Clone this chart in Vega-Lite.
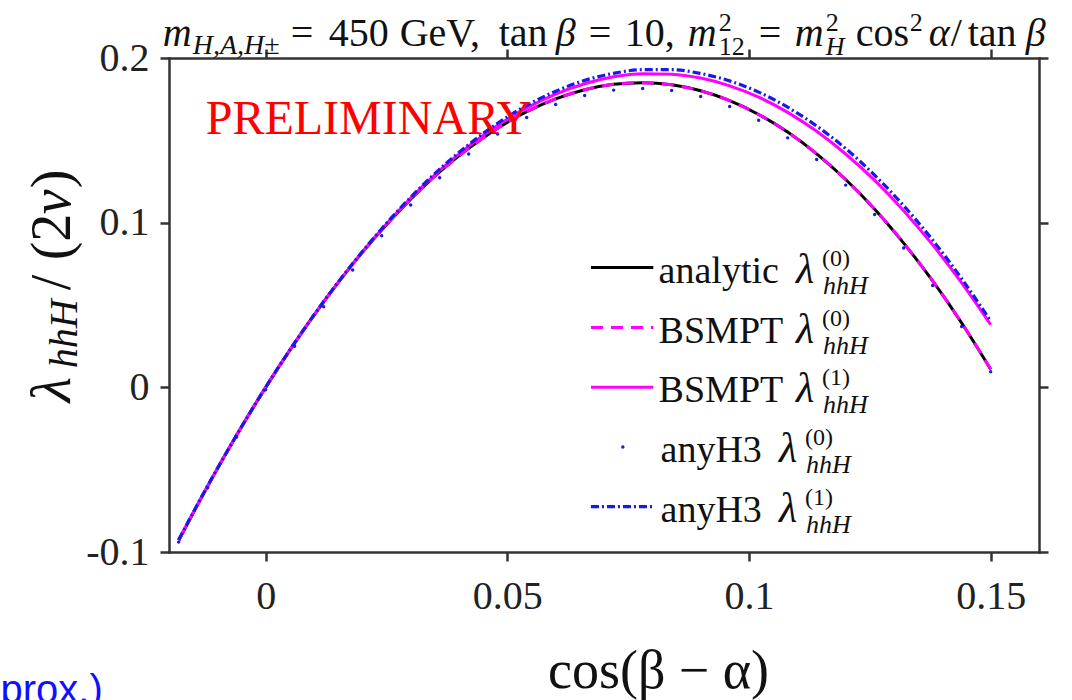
{
"$schema": "https://vega.github.io/schema/vega-lite/v6.json",
"width": 870, "height": 494,
"autosize": {"type": "none"},
"padding": {"left": 169, "top": 58, "right": 33, "bottom": 148},
"background": "#ffffff",
"config": {
  "view": {"stroke": null},
  "font": "Liberation Serif",
  "text": {"font": "Liberation Serif", "color": "#111111"},
  "axis": {"grid": false, "domainColor": "#333333", "domainWidth": 2.5, "domainCap": "square", "tickColor": "#333333", "tickWidth": 2.5, "tickSize": 9, "labelFont": "Liberation Serif", "labelFontSize": 40, "labelColor": "#222222", "titleFont": "Liberation Serif", "titleFontWeight": "normal", "titleColor": "#111111"}
},
"datasets": {"curves": [
{"series":"analytic","x":-0.018,"y":-0.0930},{"series":"analytic","x":-0.012,"y":-0.0600},{"series":"analytic","x":-0.006,"y":-0.0290},{"series":"analytic","x":0,"y":0},{"series":"analytic","x":0.006,"y":0.0270},{"series":"analytic","x":0.012,"y":0.0519},{"series":"analytic","x":0.018,"y":0.0748},{"series":"analytic","x":0.024,"y":0.0956},{"series":"analytic","x":0.030,"y":0.1142},{"series":"analytic","x":0.036,"y":0.1308},{"series":"analytic","x":0.042,"y":0.1451},{"series":"analytic","x":0.048,"y":0.1574},{"series":"analytic","x":0.054,"y":0.1674},{"series":"analytic","x":0.060,"y":0.1752},{"series":"analytic","x":0.066,"y":0.1807},{"series":"analytic","x":0.072,"y":0.1840},{"series":"analytic","x":0.078,"y":0.1850},{"series":"analytic","x":0.084,"y":0.1837},{"series":"analytic","x":0.090,"y":0.1801},{"series":"analytic","x":0.096,"y":0.1741},{"series":"analytic","x":0.102,"y":0.1657},{"series":"analytic","x":0.108,"y":0.1550},{"series":"analytic","x":0.114,"y":0.1418},{"series":"analytic","x":0.120,"y":0.1262},{"series":"analytic","x":0.126,"y":0.1082},{"series":"analytic","x":0.132,"y":0.0876},{"series":"analytic","x":0.138,"y":0.0646},{"series":"analytic","x":0.144,"y":0.0391},{"series":"analytic","x":0.150,"y":0.0110},
{"series":"bsmpt0","x":-0.018,"y":-0.0930},{"series":"bsmpt0","x":-0.012,"y":-0.0600},{"series":"bsmpt0","x":-0.006,"y":-0.0290},{"series":"bsmpt0","x":0,"y":0},{"series":"bsmpt0","x":0.006,"y":0.0270},{"series":"bsmpt0","x":0.012,"y":0.0519},{"series":"bsmpt0","x":0.018,"y":0.0748},{"series":"bsmpt0","x":0.024,"y":0.0956},{"series":"bsmpt0","x":0.030,"y":0.1142},{"series":"bsmpt0","x":0.036,"y":0.1308},{"series":"bsmpt0","x":0.042,"y":0.1451},{"series":"bsmpt0","x":0.048,"y":0.1574},{"series":"bsmpt0","x":0.054,"y":0.1674},{"series":"bsmpt0","x":0.060,"y":0.1752},{"series":"bsmpt0","x":0.066,"y":0.1807},{"series":"bsmpt0","x":0.072,"y":0.1840},{"series":"bsmpt0","x":0.078,"y":0.1850},{"series":"bsmpt0","x":0.084,"y":0.1837},{"series":"bsmpt0","x":0.090,"y":0.1801},{"series":"bsmpt0","x":0.096,"y":0.1741},{"series":"bsmpt0","x":0.102,"y":0.1657},{"series":"bsmpt0","x":0.108,"y":0.1550},{"series":"bsmpt0","x":0.114,"y":0.1418},{"series":"bsmpt0","x":0.120,"y":0.1262},{"series":"bsmpt0","x":0.126,"y":0.1082},{"series":"bsmpt0","x":0.132,"y":0.0876},{"series":"bsmpt0","x":0.138,"y":0.0646},{"series":"bsmpt0","x":0.144,"y":0.0391},{"series":"bsmpt0","x":0.150,"y":0.0110},
{"series":"bsmpt1","x":-0.018,"y":-0.0928},{"series":"bsmpt1","x":-0.012,"y":-0.0599},{"series":"bsmpt1","x":-0.006,"y":-0.0290},{"series":"bsmpt1","x":0,"y":0},{"series":"bsmpt1","x":0.006,"y":0.0270},{"series":"bsmpt1","x":0.012,"y":0.0520},{"series":"bsmpt1","x":0.018,"y":0.0750},{"series":"bsmpt1","x":0.024,"y":0.0960},{"series":"bsmpt1","x":0.030,"y":0.1149},{"series":"bsmpt1","x":0.036,"y":0.1317},{"series":"bsmpt1","x":0.042,"y":0.1465},{"series":"bsmpt1","x":0.048,"y":0.1592},{"series":"bsmpt1","x":0.054,"y":0.1697},{"series":"bsmpt1","x":0.060,"y":0.1781},{"series":"bsmpt1","x":0.066,"y":0.1844},{"series":"bsmpt1","x":0.072,"y":0.1886},{"series":"bsmpt1","x":0.078,"y":0.1905},{"series":"bsmpt1","x":0.084,"y":0.1902},{"series":"bsmpt1","x":0.090,"y":0.1878},{"series":"bsmpt1","x":0.096,"y":0.1831},{"series":"bsmpt1","x":0.102,"y":0.1762},{"series":"bsmpt1","x":0.108,"y":0.1670},{"series":"bsmpt1","x":0.114,"y":0.1555},{"series":"bsmpt1","x":0.120,"y":0.1417},{"series":"bsmpt1","x":0.126,"y":0.1257},{"series":"bsmpt1","x":0.132,"y":0.1073},{"series":"bsmpt1","x":0.138,"y":0.0865},{"series":"bsmpt1","x":0.144,"y":0.0634},{"series":"bsmpt1","x":0.150,"y":0.0380},
{"series":"anyh31","x":-0.018,"y":-0.0926},{"series":"anyh31","x":-0.012,"y":-0.0598},{"series":"anyh31","x":-0.006,"y":-0.0290},{"series":"anyh31","x":0,"y":0},{"series":"anyh31","x":0.006,"y":0.0270},{"series":"anyh31","x":0.012,"y":0.0521},{"series":"anyh31","x":0.018,"y":0.0752},{"series":"anyh31","x":0.024,"y":0.0963},{"series":"anyh31","x":0.030,"y":0.1154},{"series":"anyh31","x":0.036,"y":0.1325},{"series":"anyh31","x":0.042,"y":0.1474},{"series":"anyh31","x":0.048,"y":0.1604},{"series":"anyh31","x":0.054,"y":0.1712},{"series":"anyh31","x":0.060,"y":0.1798},{"series":"anyh31","x":0.066,"y":0.1864},{"series":"anyh31","x":0.072,"y":0.1907},{"series":"anyh31","x":0.078,"y":0.1929},{"series":"anyh31","x":0.084,"y":0.1929},{"series":"anyh31","x":0.090,"y":0.1906},{"series":"anyh31","x":0.096,"y":0.1861},{"series":"anyh31","x":0.102,"y":0.1793},{"series":"anyh31","x":0.108,"y":0.1701},{"series":"anyh31","x":0.114,"y":0.1587},{"series":"anyh31","x":0.120,"y":0.1450},{"series":"anyh31","x":0.126,"y":0.1288},{"series":"anyh31","x":0.132,"y":0.1103},{"series":"anyh31","x":0.138,"y":0.0894},{"series":"anyh31","x":0.144,"y":0.0660},{"series":"anyh31","x":0.150,"y":0.0402},
{"series":"anyh30","x":-0.018,"y":-0.0940},{"series":"anyh30","x":-0.012,"y":-0.0610},{"series":"anyh30","x":-0.006,"y":-0.0302},{"series":"anyh30","x":0,"y":-0.0015},{"series":"anyh30","x":0.006,"y":0.0250},{"series":"anyh30","x":0.012,"y":0.0489},{"series":"anyh30","x":0.018,"y":0.0713},{"series":"anyh30","x":0.024,"y":0.0921},{"series":"anyh30","x":0.030,"y":0.1107},{"series":"anyh30","x":0.036,"y":0.1273},{"series":"anyh30","x":0.042,"y":0.1417},{"series":"anyh30","x":0.048,"y":0.1539},{"series":"anyh30","x":0.054,"y":0.1639},{"series":"anyh30","x":0.060,"y":0.1717},{"series":"anyh30","x":0.066,"y":0.1772},{"series":"anyh30","x":0.072,"y":0.1805},{"series":"anyh30","x":0.078,"y":0.1815},{"series":"anyh30","x":0.084,"y":0.1802},{"series":"anyh30","x":0.090,"y":0.1766},{"series":"anyh30","x":0.096,"y":0.1706},{"series":"anyh30","x":0.102,"y":0.1622},{"series":"anyh30","x":0.108,"y":0.1515},{"series":"anyh30","x":0.114,"y":0.1383},{"series":"anyh30","x":0.120,"y":0.1228},{"series":"anyh30","x":0.126,"y":0.1049},{"series":"anyh30","x":0.132,"y":0.0846},{"series":"anyh30","x":0.138,"y":0.0618},{"series":"anyh30","x":0.144,"y":0.0370},{"series":"anyh30","x":0.150,"y":0.0095}
]},
"data": {"name": "curves"},
"resolve": {"axis": {"x": "independent", "y": "independent"}},
"layer": [
  {
    "transform": [{"filter": "datum.series === 'analytic'"}],
    "mark": {"type": "line", "color": "#000000", "strokeWidth": 3, "interpolate": "monotone"},
    "encoding": {
      "x": {"field": "x", "type": "quantitative", "scale": {"domain": [-0.02, 0.16], "nice": false, "zero": false},
            "axis": {"orient": "bottom", "values": [0, 0.05, 0.1, 0.15], "format": "~g", "labelPadding": 15, "title": "cos(β − α)", "titleFontSize": 54, "titleX": 489, "titleY": 135, "titleBaseline": "alphabetic", "titleAlign": "center"}},
      "y": {"field": "y", "type": "quantitative", "scale": {"domain": [-0.1, 0.2], "nice": false, "zero": false},
            "axis": {"orient": "left", "values": [-0.1, 0, 0.1, 0.2], "labelExpr": "datum.value < 0 ? '-' + format(-datum.value, '.1f') : (datum.value == 0 ? '0' : format(datum.value, '.1f'))", "labelPadding": 11, "title": null}}
    }
  },
  {
    "transform": [{"filter": "datum.series === 'bsmpt0'"}],
    "mark": {"type": "line", "color": "#ff00ff", "strokeWidth": 3, "strokeDash": [12, 8], "interpolate": "monotone"},
    "encoding": {
      "x": {"field": "x", "type": "quantitative", "axis": {"orient": "top", "values": [0, 0.05, 0.1, 0.15], "labels": false, "title": null}},
      "y": {"field": "y", "type": "quantitative", "axis": {"orient": "right", "values": [-0.1, 0, 0.1, 0.2], "labels": false, "title": null}}
    }
  },
  {
    "transform": [{"filter": "datum.series === 'bsmpt1'"}],
    "mark": {"type": "line", "color": "#ff00ff", "strokeWidth": 3, "interpolate": "monotone"},
    "encoding": {
      "x": {"field": "x", "type": "quantitative", "axis": null},
      "y": {"field": "y", "type": "quantitative", "axis": null}
    }
  },
  {
    "transform": [{"filter": "datum.series === 'anyh31'"}],
    "mark": {"type": "line", "color": "#1a1ae6", "strokeWidth": 3.2, "strokeDash": [8, 3, 2, 3], "interpolate": "monotone"},
    "encoding": {
      "x": {"field": "x", "type": "quantitative", "axis": null},
      "y": {"field": "y", "type": "quantitative", "axis": null}
    }
  },
  {
    "transform": [{"filter": "datum.series === 'anyh30'"}],
    "mark": {"type": "point", "filled": true, "shape": "circle", "size": 12, "color": "#1a1ae6", "opacity": 1},
    "encoding": {
      "x": {"field": "x", "type": "quantitative", "axis": null},
      "y": {"field": "y", "type": "quantitative", "axis": null}
    }
  },
  {
    "data": {"values": [{}]},
    "mark": {"type": "text", "text": "PRELIMINARY", "align": "left", "baseline": "alphabetic", "fontSize": 48, "color": "#ff0000"},
    "encoding": {"x": {"datum": -0.0124, "type": "quantitative", "axis": null}, "y": {"datum": 0.154, "type": "quantitative", "axis": null}}
  },
  {
    "data": {"values": [{}]},
    "mark": {"type": "text", "text": "(approx.)", "align": "right", "baseline": "alphabetic", "fontSize": 40, "font": "Liberation Sans", "color": "#1010ff"},
    "encoding": {"x": {"datum": -0.0337, "type": "quantitative", "axis": null}, "y": {"datum": -0.1915, "type": "quantitative", "axis": null}}
  },
  {
    "data": {"values": [{}]},
    "encoding": {"x": {"datum": -0.02131, "type": "quantitative", "axis": null}, "y": {"datum": 0.20704, "type": "quantitative", "axis": null}},
    "layer": [
      {"mark": {"type": "text", "text": "m", "align": "left", "baseline": "alphabetic", "fontSize": 40, "fontStyle": "italic"}},
      {"mark": {"type": "text", "text": "H,A,H±", "align": "left", "baseline": "alphabetic", "fontSize": 28, "fontStyle": "italic", "dx": 30, "dy": 8}},
      {"mark": {"type": "text", "text": "=", "align": "left", "baseline": "alphabetic", "fontSize": 40, "dx": 128}},
      {"mark": {"type": "text", "text": "450", "align": "left", "baseline": "alphabetic", "fontSize": 40, "dx": 166}},
      {"mark": {"type": "text", "text": "GeV,", "align": "left", "baseline": "alphabetic", "fontSize": 40, "dx": 237}},
      {"mark": {"type": "text", "text": "tan", "align": "left", "baseline": "alphabetic", "fontSize": 40, "dx": 336}},
      {"mark": {"type": "text", "text": "β", "align": "left", "baseline": "alphabetic", "fontSize": 40, "fontStyle": "italic", "dx": 393}},
      {"mark": {"type": "text", "text": "=", "align": "left", "baseline": "alphabetic", "fontSize": 40, "dx": 426}},
      {"mark": {"type": "text", "text": "10,", "align": "left", "baseline": "alphabetic", "fontSize": 40, "dx": 462}},
      {"mark": {"type": "text", "text": "m", "align": "left", "baseline": "alphabetic", "fontSize": 40, "fontStyle": "italic", "dx": 525}},
      {"mark": {"type": "text", "text": "2", "align": "left", "baseline": "alphabetic", "fontSize": 26, "dx": 556, "dy": -15}},
      {"mark": {"type": "text", "text": "12", "align": "left", "baseline": "alphabetic", "fontSize": 26, "dx": 556, "dy": 9}},
      {"mark": {"type": "text", "text": "=", "align": "left", "baseline": "alphabetic", "fontSize": 40, "dx": 596}},
      {"mark": {"type": "text", "text": "m", "align": "left", "baseline": "alphabetic", "fontSize": 40, "fontStyle": "italic", "dx": 632}},
      {"mark": {"type": "text", "text": "2", "align": "left", "baseline": "alphabetic", "fontSize": 26, "dx": 663, "dy": -15}},
      {"mark": {"type": "text", "text": "H", "align": "left", "baseline": "alphabetic", "fontSize": 26, "fontStyle": "italic", "dx": 663, "dy": 9}},
      {"mark": {"type": "text", "text": "cos", "align": "left", "baseline": "alphabetic", "fontSize": 40, "dx": 693}},
      {"mark": {"type": "text", "text": "2", "align": "left", "baseline": "alphabetic", "fontSize": 26, "dx": 747, "dy": -15}},
      {"mark": {"type": "text", "text": "α", "align": "left", "baseline": "alphabetic", "fontSize": 40, "fontStyle": "italic", "dx": 766}},
      {"mark": {"type": "text", "text": "/", "align": "left", "baseline": "alphabetic", "fontSize": 40, "dx": 788}},
      {"mark": {"type": "text", "text": "tan", "align": "left", "baseline": "alphabetic", "fontSize": 40, "dx": 805}},
      {"mark": {"type": "text", "text": "β", "align": "left", "baseline": "alphabetic", "fontSize": 40, "fontStyle": "italic", "dx": 863}}
    ]
  },
  {
    "data": {"values": [{}]},
    "encoding": {"x": {"datum": -0.04055, "type": "quantitative", "axis": null}, "y": {"datum": -0.0091, "type": "quantitative", "axis": null}},
    "layer": [
      {"mark": {"type": "text", "text": "λ", "align": "left", "baseline": "alphabetic", "angle": 270, "fontSize": 58, "fontStyle": "italic"}},
      {"mark": {"type": "text", "text": "hhH", "align": "left", "baseline": "alphabetic", "angle": 270, "fontSize": 40, "fontStyle": "italic", "dx": 34, "dy": 7}},
      {"mark": {"type": "text", "text": "/", "align": "left", "baseline": "alphabetic", "angle": 270, "fontSize": 56, "dx": 112}},
      {"mark": {"type": "text", "text": "(2", "align": "left", "baseline": "alphabetic", "angle": 270, "fontSize": 56, "dx": 142}},
      {"mark": {"type": "text", "text": "v", "align": "left", "baseline": "alphabetic", "angle": 270, "fontSize": 56, "fontStyle": "italic", "dx": 188}},
      {"mark": {"type": "text", "text": ")", "align": "left", "baseline": "alphabetic", "angle": 270, "fontSize": 56, "dx": 214}}
    ]
  },
  {
    "data": {"values": [{}]},
    "encoding": {"y": {"datum": 0.0727, "type": "quantitative", "axis": null}},
    "layer": [
      {"mark": {"type": "rule", "color": "#000000", "strokeWidth": 3}, "encoding": {"x": {"datum": 0.0673, "type": "quantitative", "axis": null}, "x2": {"datum": 0.0802}}},
      {"mark": {"type": "text", "text": "analytic", "align": "left", "baseline": "alphabetic", "dy": 15, "fontSize": 38}, "encoding": {"x": {"datum": 0.0813, "type": "quantitative", "axis": null}}},
      {"mark": {"type": "text", "text": "λ", "align": "left", "baseline": "alphabetic", "dy": 15, "fontSize": 42, "fontStyle": "italic"}, "encoding": {"x": {"datum": 0.1097, "type": "quantitative", "axis": null}}},
      {"mark": {"type": "text", "text": "(0)", "align": "left", "baseline": "alphabetic", "dx": 26, "dy": -2, "fontSize": 24}, "encoding": {"x": {"datum": 0.1097, "type": "quantitative", "axis": null}}},
      {"mark": {"type": "text", "text": "hhH", "align": "left", "baseline": "alphabetic", "dx": 27, "dy": 26, "fontSize": 26, "fontStyle": "italic"}, "encoding": {"x": {"datum": 0.1097, "type": "quantitative", "axis": null}}}
    ]
  },
  {
    "data": {"values": [{}]},
    "encoding": {"y": {"datum": 0.0363, "type": "quantitative", "axis": null}},
    "layer": [
      {"mark": {"type": "rule", "color": "#ff00ff", "strokeWidth": 3, "strokeDash": [12, 8]}, "encoding": {"x": {"datum": 0.0673, "type": "quantitative", "axis": null}, "x2": {"datum": 0.0802}}},
      {"mark": {"type": "text", "text": "BSMPT", "align": "left", "baseline": "alphabetic", "dy": 15, "fontSize": 38}, "encoding": {"x": {"datum": 0.0813, "type": "quantitative", "axis": null}}},
      {"mark": {"type": "text", "text": "λ", "align": "left", "baseline": "alphabetic", "dy": 15, "fontSize": 42, "fontStyle": "italic"}, "encoding": {"x": {"datum": 0.1097, "type": "quantitative", "axis": null}}},
      {"mark": {"type": "text", "text": "(0)", "align": "left", "baseline": "alphabetic", "dx": 26, "dy": -2, "fontSize": 24}, "encoding": {"x": {"datum": 0.1097, "type": "quantitative", "axis": null}}},
      {"mark": {"type": "text", "text": "hhH", "align": "left", "baseline": "alphabetic", "dx": 27, "dy": 26, "fontSize": 26, "fontStyle": "italic"}, "encoding": {"x": {"datum": 0.1097, "type": "quantitative", "axis": null}}}
    ]
  },
  {
    "data": {"values": [{}]},
    "encoding": {"y": {"datum": 0, "type": "quantitative", "axis": null}},
    "layer": [
      {"mark": {"type": "rule", "color": "#ff00ff", "strokeWidth": 3}, "encoding": {"x": {"datum": 0.0673, "type": "quantitative", "axis": null}, "x2": {"datum": 0.0802}}},
      {"mark": {"type": "text", "text": "BSMPT", "align": "left", "baseline": "alphabetic", "dy": 15, "fontSize": 38}, "encoding": {"x": {"datum": 0.0813, "type": "quantitative", "axis": null}}},
      {"mark": {"type": "text", "text": "λ", "align": "left", "baseline": "alphabetic", "dy": 15, "fontSize": 42, "fontStyle": "italic"}, "encoding": {"x": {"datum": 0.1097, "type": "quantitative", "axis": null}}},
      {"mark": {"type": "text", "text": "(1)", "align": "left", "baseline": "alphabetic", "dx": 26, "dy": -2, "fontSize": 24}, "encoding": {"x": {"datum": 0.1097, "type": "quantitative", "axis": null}}},
      {"mark": {"type": "text", "text": "hhH", "align": "left", "baseline": "alphabetic", "dx": 27, "dy": 26, "fontSize": 26, "fontStyle": "italic"}, "encoding": {"x": {"datum": 0.1097, "type": "quantitative", "axis": null}}}
    ]
  },
  {
    "data": {"values": [{}]},
    "encoding": {"y": {"datum": -0.0363, "type": "quantitative", "axis": null}},
    "layer": [
      {"mark": {"type": "point", "filled": true, "shape": "circle", "size": 12, "color": "#1a1ae6", "opacity": 1}, "encoding": {"x": {"datum": 0.0739, "type": "quantitative", "axis": null}}},
      {"mark": {"type": "text", "text": "anyH3", "align": "left", "baseline": "alphabetic", "dy": 15, "fontSize": 38}, "encoding": {"x": {"datum": 0.0817, "type": "quantitative", "axis": null}}},
      {"mark": {"type": "text", "text": "λ", "align": "left", "baseline": "alphabetic", "dy": 15, "fontSize": 42, "fontStyle": "italic"}, "encoding": {"x": {"datum": 0.1062, "type": "quantitative", "axis": null}}},
      {"mark": {"type": "text", "text": "(0)", "align": "left", "baseline": "alphabetic", "dx": 26, "dy": -2, "fontSize": 24}, "encoding": {"x": {"datum": 0.1062, "type": "quantitative", "axis": null}}},
      {"mark": {"type": "text", "text": "hhH", "align": "left", "baseline": "alphabetic", "dx": 27, "dy": 26, "fontSize": 26, "fontStyle": "italic"}, "encoding": {"x": {"datum": 0.1062, "type": "quantitative", "axis": null}}}
    ]
  },
  {
    "data": {"values": [{}]},
    "encoding": {"y": {"datum": -0.0725, "type": "quantitative", "axis": null}},
    "layer": [
      {"mark": {"type": "rule", "color": "#1a1ae6", "strokeWidth": 3.2, "strokeDash": [8, 3, 2, 3]}, "encoding": {"x": {"datum": 0.0673, "type": "quantitative", "axis": null}, "x2": {"datum": 0.0802}}},
      {"mark": {"type": "text", "text": "anyH3", "align": "left", "baseline": "alphabetic", "dy": 15, "fontSize": 38}, "encoding": {"x": {"datum": 0.0817, "type": "quantitative", "axis": null}}},
      {"mark": {"type": "text", "text": "λ", "align": "left", "baseline": "alphabetic", "dy": 15, "fontSize": 42, "fontStyle": "italic"}, "encoding": {"x": {"datum": 0.1062, "type": "quantitative", "axis": null}}},
      {"mark": {"type": "text", "text": "(1)", "align": "left", "baseline": "alphabetic", "dx": 26, "dy": -2, "fontSize": 24}, "encoding": {"x": {"datum": 0.1062, "type": "quantitative", "axis": null}}},
      {"mark": {"type": "text", "text": "hhH", "align": "left", "baseline": "alphabetic", "dx": 27, "dy": 26, "fontSize": 26, "fontStyle": "italic"}, "encoding": {"x": {"datum": 0.1062, "type": "quantitative", "axis": null}}}
    ]
  }
]
}
